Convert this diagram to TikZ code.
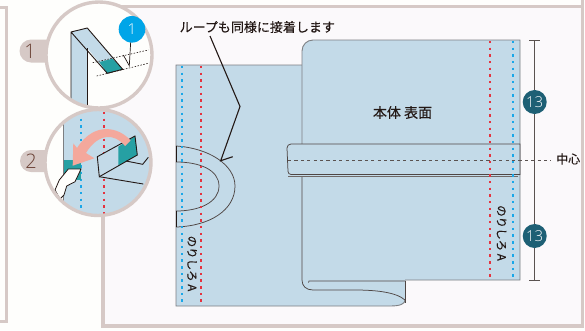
\documentclass[tikz,border=0pt]{standalone}
\usepackage{fontspec}
\setmainfont[FakeBold=0.25]{Noto Sans CJK JP}
\newfontfamily\numfont{Open Sans Light}
\definecolor{paperL}{HTML}{FEFEFC}
\definecolor{paperR}{HTML}{FBF9FB}
\definecolor{framec}{HTML}{D6C9C6}
\definecolor{cloth}{HTML}{C3DAE8}
\definecolor{teal1}{HTML}{26A0A3}
\definecolor{dark}{HTML}{231815}
\definecolor{edge}{HTML}{7D7F82}
\definecolor{redd}{HTML}{E5333F}
\definecolor{blued}{HTML}{1AA7E8}
\definecolor{navy}{HTML}{1E6075}
\definecolor{cyan1}{HTML}{00A5E8}
\definecolor{salmon}{HTML}{F4A89C}
\definecolor{numbr}{HTML}{6B4236}
\tikzset{
 clothline/.style={draw=edge,line width=.9pt,fill=cloth},
 ink/.style={draw=dark,line width=.9pt},
 softink/.style={draw=dark!80,line width=.75pt},
 reddots/.style={draw=redd,line width=2pt,dash pattern=on 2.4pt off 4.27pt},
 bluedots/.style={draw=blued,line width=2pt,dash pattern=on 2.4pt off 4.27pt},
 centerdash/.style={draw=dark!75,line width=.8pt,dash pattern=on 3.2pt off 3.2pt},
 fine/.style={draw=dark,line width=.6pt,dash pattern=on 1.5pt off 1.5pt},
 badge/.style={circle,fill=navy,text=white,inner sep=0pt,minimum size=24pt,font=\numfont\fontsize{15}{15}\selectfont},
 lab/.style={text=dark,inner sep=0pt,font=\fontsize{13}{14}\selectfont},
 sidelab/.style={text=dark,inner sep=0pt,rotate=-90,font=\fontsize{11.5}{12}\selectfont},
 tagnum/.style={text=numbr,inner sep=0pt,font=\numfont\fontsize{20}{20}\selectfont},
 ring/.style={draw=framec,line width=3.4pt},
}
\begin{document}
\begin{tikzpicture}[x=1pt,y=-1pt]
\useasboundingbox (0,0) rectangle (585,330);
\fill[paperL] (0,0) rectangle (585,330);
\fill[paperR] (103,6) rectangle (582,326);
% frames
\draw[framec,line width=3pt] (0,7) -- (6,7) -- (6,321) -- (0,321);
\draw[framec,line width=3.2pt] (103,217) -- (103,326) -- (582.5,326) -- (582.5,0);
\draw[framec,line width=3.2pt] (103,6.5) -- (582.5,6.5);
% left cloth
\path[clothline] (176,65) -- (302,65) -- (405,65) -- (405,300) .. controls (405,304) and (400,306) .. (390,306) -- (176,306) -- cycle;
% body
\path[fill=cloth] (302,51) arc[start angle=180,end angle=270,radius=11] -- (520,40) -- (520,280) -- (405,280) -- (405,300) .. controls (396,292) and (375,290) .. (355,290) -- (313,290) .. controls (306,290) and (302,286) .. (302,280) -- cycle;
\draw[draw=edge,line width=.9pt] (302,144) -- (302,51) arc[start angle=180,end angle=270,radius=11] -- (520,40) -- (520,280) -- (405,280);
\draw[softink] (302,176) -- (302,280) .. controls (302,286) and (306,290) .. (313,290) -- (355,290) .. controls (375,290) and (396,292) .. (405,300);
\draw[softink] (405,281) -- (405,303);
\draw[softink] (308.5,282.5) -- (309,281) -- (405,281);
% loop
\draw[softink] (176,146) .. controls (209,148) and (235,165) .. (235,186) .. controls (235,210) and (210,226) .. (176,227);
\draw[softink] (176,162) .. controls (200,162) and (219,170) .. (219,186) .. controls (219,202) and (200,211) .. (176,211);
\draw[ink] (176,146) -- (176,162) (176,211) -- (176,227);
% band
\path[fill=cloth,softink] (287,148) arc[start angle=180,end angle=270,radius=4] -- (520,144) -- (520,174.5) -- (291,174.5) arc[start angle=90,end angle=180,radius=3] -- cycle;
\draw[dark!65,line width=1pt] (288,176.5) -- (518,176.5);
% stitching
\draw[bluedots] (181.7,66) -- (181.7,306);
\draw[reddots] (200.7,66) -- (200.7,306);
\draw[reddots] (490.3,41) -- (490.3,280);
\draw[bluedots] (512.7,41) -- (512.7,280);
\draw[centerdash] (288,160) -- (551,160);
% dimension
\draw[dark!75,line width=.9pt] (529,40) -- (540,40) (534.7,40) -- (534.7,280) (529,280) -- (540,280);
\node[badge] (b1) at (534.7,102) {13};
\node[badge] (b2) at (534.7,236) {13};
% labels
\node[lab,font=\fontsize{14}{14}\selectfont] (t1) at (402.5,112.5) {本体 表面};
\node[lab,anchor=west] (t2) at (179.5,27) {ループも同様に接着します};
\node[lab,anchor=west,font=\fontsize{12}{12}\selectfont] (t3) at (556,159) {中心};
\node[sidelab] (t4) at (192,263.5) {のりしろ A};
\node[sidelab] (t5) at (501.5,233) {のりしろ A};
% leader
\coordinate (l0) at (210,36);
\coordinate (l1) at (240,106.5);
\coordinate (l2) at (220.7,160.7);
\coordinate (l3) at (232.7,156.7);
\draw[ink,line width=1.1pt] (l0) -- (l1) -- (l2) -- (l3);
% tags
\fill[framec] (31,39.5) arc[start angle=-90,end angle=-270,radius=11.5] -- (60,62.5) -- (60,39.5) -- cycle;
\fill[framec] (31,150) arc[start angle=-90,end angle=-270,radius=11] -- (60,172) -- (60,150) -- cycle;
\node[tagnum] (tg1) at (30,51) {1};
\node[tagnum] (tg2) at (31,161) {2};
% circle 1
\begin{scope}
\fill[paperL] (99,55) circle (53);
\clip (99,55) circle (53);
\fill[cloth] (71,32) -- (71,112) -- (87.3,112) -- (87.3,48) -- (107.3,73.3) -- (122.7,69.3) -- (87.3,28) -- cycle;
\fill[teal1] (99.3,62) -- (112.7,58.7) -- (122.7,69.3) -- (107.3,73.3) -- cycle;
\draw[ink] (71,112) -- (71,32) -- (87.3,28) -- (122.7,69.3) -- (107.3,73.3) -- (71,32);
\draw[ink] (87.3,112) -- (87.3,48);
\draw[ink,line width=.7pt] (123.3,55) -- (129.3,65.7) -- (130.7,41.7);
\draw[fine] (92.7,62.7) -- (148.3,50);
\draw[fine] (96.7,76) -- (148.3,63.3);
\end{scope}
\draw[ring] (99,55) circle (53);
\node[circle,fill=cyan1,minimum size=26.6pt,inner sep=0pt,text=white,font=\numfont\fontsize{15}{15}\selectfont] (c1) at (132,29.3) {1};
% circle 2
\begin{scope}
\fill[cloth] (98,162.5) circle (53);
\clip (98,162.5) circle (53);
\fill[paperL] (40,100) rectangle (63.5,225);
\draw[edge,line width=1.2pt] (63.7,100) -- (63.7,225);
\draw[bluedots] (81,112) -- (81,225);
\draw[reddots] (103.7,112) -- (103.7,225);
\fill[teal1] (64,160) rectangle (81,180);
\path[fill=cloth] (97.3,156.7) -- (135,136) -- (137.3,155) -- (99.3,176.7) -- cycle;
\fill[teal1] (118.3,146.7) -- (135,136) -- (137.3,155) -- (118.3,165.5) -- cycle;
\draw[ink] (97.3,156.7) -- (135,136) -- (137.3,155) -- (99.3,176.7) -- cycle;
\draw[ink] (126,161) -- (142.7,164.3) -- (148.3,157.3);
\draw[ink] (99.3,176.7) -- (143.3,184);
\path[fill=paperL,draw=dark,line width=.8pt] (68.3,169) -- (81,169) -- (75,181.7) -- (66.7,186) -- (64,195) -- (60,199) -- (55,190) -- (59.3,180) -- cycle;
\path[fill=salmon] (130.5,140.5) .. controls (120,128) and (95,120) .. (77,148) -- (73.3,143.3) -- (72.7,165.7) -- (94.3,158.3) -- (86,153) .. controls (98,133) and (115,133) .. (125,146) -- cycle;
\end{scope}
\draw[ring] (98,162.5) circle (53);
\end{tikzpicture}
\end{document}
